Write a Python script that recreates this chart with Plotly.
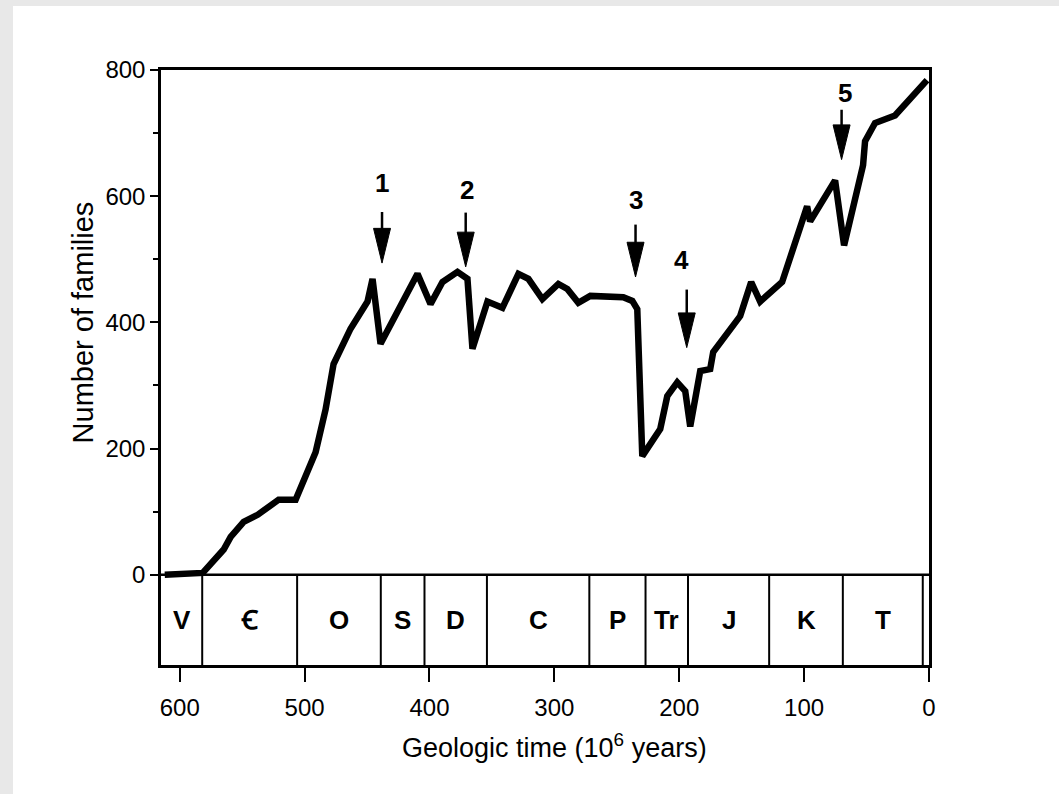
import plotly.graph_objects as go

# ---------------- data ----------------
time_myr = [612, 581.6, 564.8, 559.2, 548.8, 537.6, 520.8, 507.2, 491.2, 483.2,
            476.8, 463.2, 449.6, 445.6, 439.2, 409.6, 399.2, 389.6, 377.6, 369.6,
            365.6, 353.6, 341.6, 328.8, 320.8, 309.6, 296.8, 289.6, 280.8, 271.2,
            244.8, 237.6, 233.6, 229.6, 215.2, 209.6, 201.6, 195.2, 191.2, 183.2,
            175.2, 172.8, 151.2, 142.4, 135.2, 117.6, 97.6, 95.2, 75.2, 68,
            52.8, 51.2, 43.2, 27.2, 1.6]
families = [0, 3, 40, 60, 84, 95, 119, 119, 194, 262,
            334, 390, 433, 469, 366, 477, 429, 464, 480, 469,
            358, 433, 423, 477, 469, 437, 461, 453, 431, 442,
            440, 434, 421, 188, 231, 283, 305, 291, 235, 323,
            326, 353, 410, 464, 433, 464, 584, 560, 625, 522,
            649, 687, 716, 728, 784]

period_names = ["V", "\uA792", "O", "S", "D", "C", "P", "Tr", "J", "K", "T"]
period_start = [615, 582, 506, 439, 404, 354, 272, 227, 193, 128, 69]
period_end = [582, 506, 439, 404, 354, 272, 227, 193, 128, 69, 5]

event_labels = ["1", "2", "3", "4", "5"]
event_x = [438, 371, 235, 194, 70]
event_tip = [494, 488, 472, 360, 658]
event_tail = [575, 574, 555, 452, 737]
event_label_y = [621, 610, 594, 499, 764]
event_label_x = [438, 370, 235, 198, 67]

x_ticks = [600, 500, 400, 300, 200, 100, 0]
y_ticks = [0, 200, 400, 600, 800]
y_minor = [100, 300, 500, 700]

X_RANGE = [615, 0]
Y_RANGE = [-143, 800]

FONT = "Liberation Sans, Arial, Helvetica, sans-serif"

fig = go.Figure()
fig.add_trace(go.Scatter(x=time_myr, y=families, mode="lines",
                         line=dict(color="black", width=6.5),
                         hoverinfo="skip", showlegend=False))

shapes = []
annotations = []

# background gray strips (page border)
shapes.append(dict(type="rect", xref="paper", yref="paper", x0=-0.22, x1=1.2,
                   y0=1.1076, y1=1.13, fillcolor="#e8e8e8", line=dict(width=0),
                   layer="below"))
shapes.append(dict(type="rect", xref="paper", yref="paper", x0=-0.22, x1=-0.1927,
                   y0=-0.23, y1=1.13, fillcolor="#e8e8e8", line=dict(width=0),
                   layer="below"))

# zero line / top of period box
shapes.append(dict(type="line", xref="x", yref="y", x0=X_RANGE[0], x1=X_RANGE[1],
                   y0=0, y1=0, line=dict(color="black", width=2.5)))

# period boxes
for name, s, e in zip(period_names, period_start, period_end):
    shapes.append(dict(type="line", xref="x", yref="y", x0=e, x1=e,
                       y0=Y_RANGE[0], y1=0, line=dict(color="black", width=2)))
    annotations.append(dict(x=(s + e) / 2, y=-72, xref="x", yref="y",
                            text="<b>%s</b>" % name, showarrow=False,
                            font=dict(family=FONT, size=26, color="black"),
                            xanchor="center", yanchor="middle"))

# extinction event arrows
head_len = 55
head_half = 6.8
for lab, x, tip, tail, ly, lx in zip(event_labels, event_x, event_tip, event_tail,
                                     event_label_y, event_label_x):
    shapes.append(dict(type="line", xref="x", yref="y", x0=x, x1=x,
                       y0=tail, y1=tip + head_len - 2,
                       line=dict(color="black", width=2.5)))
    path = "M %f %f L %f %f L %f %f Z" % (x - head_half, tip + head_len,
                                          x + head_half, tip + head_len, x, tip)
    shapes.append(dict(type="path", xref="x", yref="y", path=path,
                       fillcolor="black", line=dict(color="black", width=1)))
    annotations.append(dict(x=lx, y=ly, xref="x", yref="y",
                            text="<b>%s</b>" % lab, showarrow=False,
                            font=dict(family=FONT, size=26, color="black"),
                            xanchor="center", yanchor="middle"))

# axis titles
annotations.append(dict(x=0, xref="paper", xshift=-78, y=400, yref="y",
                        text="Number of families", textangle=-90, showarrow=False,
                        font=dict(family=FONT, size=29, color="black"),
                        xanchor="center", yanchor="middle"))
annotations.append(dict(x=300, xref="x", y=-0.136, yref="paper",
                        text="Geologic time (10<sup>6</sup> years)", showarrow=False,
                        font=dict(family=FONT, size=27, color="black"),
                        xanchor="center", yanchor="middle"))

fig.update_layout(
    width=1059, height=794,
    margin=dict(l=161, r=130, t=70, b=129),
    paper_bgcolor="white", plot_bgcolor="white",
    shapes=shapes, annotations=annotations,
    xaxis=dict(range=X_RANGE, tickmode="array", tickvals=x_ticks,
               ticktext=[str(v) for v in x_ticks],
               ticks="outside", ticklen=14, tickwidth=2, tickcolor="black",
               ticklabelstandoff=5,
               showline=True, linewidth=2.5, linecolor="black", mirror=True,
               showgrid=False, zeroline=False,
               tickfont=dict(family=FONT, size=24, color="black")),
    yaxis=dict(range=Y_RANGE, tickmode="array", tickvals=y_ticks,
               ticktext=[str(v) for v in y_ticks],
               ticks="outside", ticklen=8, tickwidth=2, tickcolor="black",
               showline=True, linewidth=2.5, linecolor="black", mirror=True,
               showgrid=False, zeroline=False,
               minor=dict(tickmode="array", tickvals=y_minor, ticks="outside",
                          ticklen=5, tickwidth=1.5, tickcolor="black", showgrid=False),
               tickfont=dict(family=FONT, size=24, color="black")),
)

fig.write_html("out.html")
